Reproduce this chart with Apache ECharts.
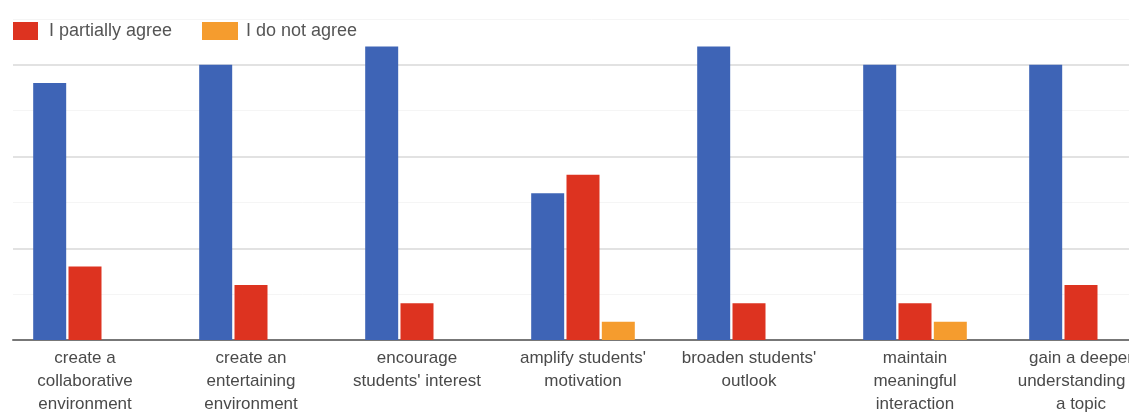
<!DOCTYPE html>
<html>
  <head>
    <meta charset="UTF-8" />
    <title>Survey chart</title>
    <script src="https://cdn.jsdelivr.net/npm/echarts@6/dist/echarts.min.js"></script>
    <style>
      html, body { margin: 0; padding: 0; background: #fff; overflow: hidden; }
      /* the picture is a crop: the chart runs past the top and right edges */
      #chart { width: 1170px; height: 448px; margin-top: -30px; }
    </style>
  </head>
  <body>
    <div id="chart"></div>
    <script type="text/javascript">
      // categories (line breaks as in the picture)
      var categories = [
        "create a\ncollaborative\nenvironment",
        "create an\nentertaining\nenvironment",
        "encourage\nstudents' interest",
        "amplify students'\nmotivation",
        "broaden students'\noutlook",
        "maintain\nmeaningful\ninteraction",
        "gain a deeper\nunderstanding of\na topic"
      ];
      var agree = [14, 15, 16, 8, 16, 15, 15];
      var partiallyAgree = [4, 3, 2, 9, 2, 2, 3];
      var notAgree = [0, 0, 0, 1, 0, 1, 0];

      var yMax = 20;
      var yStep = 5;

      var chart = echarts.init(document.getElementById("chart"));

      var font = "Liberation Sans, Arial, sans-serif";

      var option = {
        animation: false,
        textStyle: { fontFamily: font },
        legend: [
          {
            data: ["I partially agree"],
            icon: "rect",
            left: 13,
            top: 52,
            padding: 0,
            itemWidth: 25,
            itemHeight: 18,
            itemStyle: { borderWidth: 0 },
            textStyle: { fontSize: 18, color: "#555", padding: [0, 0, 0, 6], fontFamily: font }
          },
          {
            data: ["I do not agree"],
            icon: "rect",
            left: 202,
            top: 52,
            padding: 0,
            itemWidth: 36,
            itemHeight: 18,
            itemStyle: { borderWidth: 0 },
            textStyle: { fontSize: 18, color: "#555", padding: [0, 0, 0, 3], fontFamily: font }
          }
        ],
        grid: [
          // bars
          { left: 2, width: 1162, top: 3, bottom: 78 },
          // lines only (start a little further right, as in the picture)
          { left: 13, right: 0, top: 3, bottom: 78 }
        ],
        xAxis: [
          {
            type: "category",
            gridIndex: 0,
            data: categories,
            axisLine: { show: false },
            axisTick: { show: false },
            axisLabel: {
              interval: 0,
              margin: 7,
              fontSize: 17,
              lineHeight: 23,
              color: "#4a4a4a",
              fontFamily: font
            }
          },
          {
            type: "value",
            gridIndex: 1,
            min: 0,
            max: 1,
            axisLine: { show: true, onZero: false, lineStyle: { color: "#777", width: 2 } },
            axisTick: { show: false },
            axisLabel: { show: false },
            splitLine: { show: false }
          }
        ],
        yAxis: [
          {
            type: "value",
            gridIndex: 0,
            min: 0,
            max: yMax,
            interval: yStep,
            axisLine: { show: false },
            axisTick: { show: false },
            axisLabel: { show: false },
            splitLine: { show: false }
          },
          {
            type: "value",
            gridIndex: 1,
            min: 0,
            max: yMax,
            interval: yStep,
            axisLine: { show: false },
            axisTick: { show: false },
            axisLabel: { show: false },
            splitLine: { show: true, lineStyle: { color: "#e2e2e2", width: 2 } },
            minorTick: { show: false, splitNumber: 2 },
            minorSplitLine: { show: true, lineStyle: { color: "#f5f5f5", width: 1 } }
          }
        ],
        series: [
          {
            name: "I agree",
            type: "bar",
            xAxisIndex: 0,
            yAxisIndex: 0,
            barWidth: 33,
            barGap: "7%",
            itemStyle: { color: "#3e64b6" },
            data: agree,
            z: 3
          },
          {
            name: "I partially agree",
            type: "bar",
            xAxisIndex: 0,
            yAxisIndex: 0,
            barWidth: 33,
            barGap: "7%",
            itemStyle: { color: "#dd3320" },
            data: partiallyAgree,
            z: 3
          },
          {
            name: "I do not agree",
            type: "bar",
            xAxisIndex: 0,
            yAxisIndex: 0,
            barWidth: 33,
            barGap: "7%",
            itemStyle: { color: "#f59c2e" },
            data: notAgree,
            z: 3
          }
        ]
      };

      chart.setOption(option);
    </script>
  </body>
</html>
